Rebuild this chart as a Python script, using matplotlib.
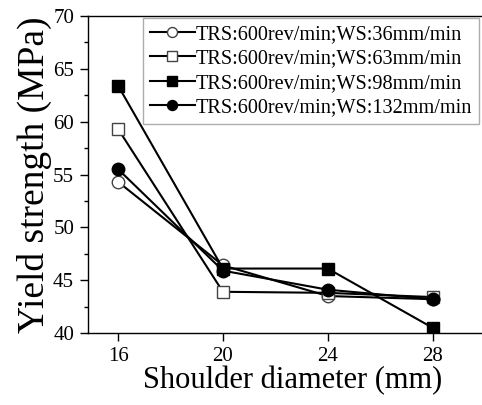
import matplotlib.pyplot as plt
import numpy as np

plt.rcParams['font.family'] = ['Liberation Serif', 'DejaVu Serif']
plt.rcParams['mathtext.fontset'] = 'stix'

# shoulder diameter (mm)
diametro = [16, 20, 24, 28]
# yield strength (MPa) at TRS 600 rev/min
ws36 = [54.3, 46.4, 43.5, 43.2]
ws63 = [59.3, 43.9, 43.8, 43.4]
ws98 = [63.4, 46.1, 46.1, 40.5]
ws132 = [55.5, 45.9, 44.1, 43.2]
etiquetas = ['TRS:600rev/min;WS:36mm/min',
             'TRS:600rev/min;WS:63mm/min',
             'TRS:600rev/min;WS:98mm/min',
             'TRS:600rev/min;WS:132mm/min']

fig = plt.figure(figsize=(4.82, 4.05), dpi=100)
ax = fig.add_axes([88/482, 72/405, 410/482, 317/405])

ax.plot(diametro, ws36, '-o', color='black', mfc='white', mec='#444444',
        ms=9, lw=1.5, label=etiquetas[0])
ax.plot(diametro, ws63, '-s', color='black', mfc='white', mec='#444444',
        ms=8.5, lw=1.5, label=etiquetas[1])
ax.plot(diametro, ws98, '-s', color='black', mfc='black',
        ms=8.5, lw=1.5, label=etiquetas[2])
ax.plot(diametro, ws132, '-o', color='black', mfc='black',
        ms=9, lw=1.5, label=etiquetas[3])

ax.set_xlim(14.85, 30.5)
ax.set_ylim(40, 70)
ax.set_xticks(diametro)
ax.set_yticks(np.arange(40, 71, 5))
ax.set_yticks(np.arange(42.5, 70, 5), minor=True)
ax.tick_params(axis='both', which='major', direction='out', length=6,
               width=1, labelsize=15, pad=4)
ax.tick_params(axis='y', which='minor', direction='out', length=3, width=1)
for s in ax.spines.values():
    s.set_linewidth(1)

ax.set_xlabel('Shoulder diameter (mm)', fontsize=22, labelpad=0)
ax.set_ylabel('Yield strength (MPa)', fontsize=27, labelpad=1)

leg = ax.legend(loc='upper right', bbox_to_anchor=(479/482, 387/405),
                bbox_transform=fig.transFigure, fontsize=14.6,
                frameon=True, fancybox=False, edgecolor='#999999',
                handlelength=2.2, handletextpad=0.05, labelspacing=0.25,
                borderpad=0.35, markerscale=0.8, borderaxespad=0)
leg.get_frame().set_linewidth(1)

fig.savefig('out.png', dpi=100)
